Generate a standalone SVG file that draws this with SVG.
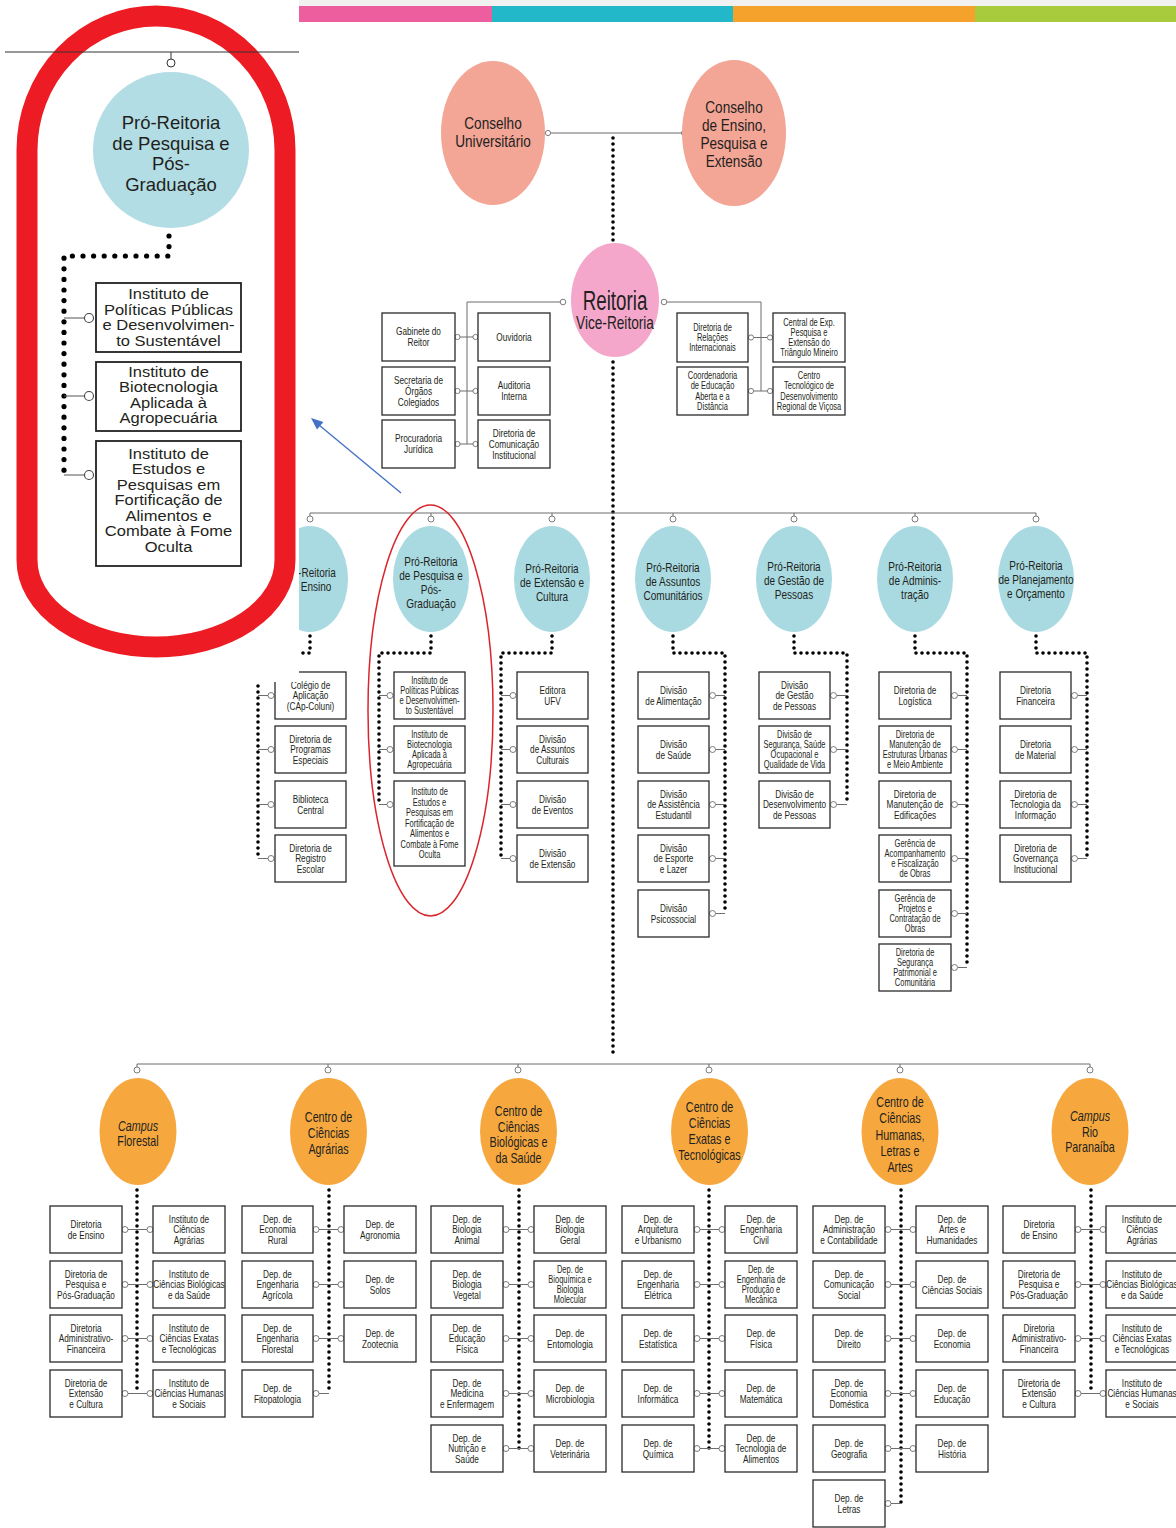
<svg xmlns="http://www.w3.org/2000/svg" width="1176" height="1528" viewBox="0 0 1176 1528">
<defs>
<style>
.box{fill:#fff;stroke:#2a2a2a;stroke-width:1.3}
.dot{fill:none;stroke:#000;stroke-width:3.6;stroke-linecap:round;stroke-dasharray:0 6}
.ln{fill:none;stroke:#6d6d6d;stroke-width:1}
.cc{fill:#fff;stroke:#6d6d6d;stroke-width:0.9}
text{font-family:'Liberation Sans',Arial,sans-serif;fill:#231f20;text-anchor:middle}
.bt{font-size:11px}
.bs{font-size:10px}
.et{font-size:13px}
.ot{font-size:14px}
.ct{font-size:17px}
.pr{fill:#A9DAE1}
.or{fill:#F6A83F}
.cs{fill:#F3A596}
.it{font-family:'Liberation Sans',Arial,sans-serif;font-size:15px}
.ibox{fill:#fff;stroke:#222;stroke-width:1.8}
</style>
</defs>
<rect x="0" y="0" width="1176" height="1528" fill="#fff"/>
<g id="colorbar">
<rect x="299" y="0" width="877" height="6" fill="#f1f1f1"/>
<rect x="299" y="6" width="193" height="16" fill="#EC5E9E"/>
<rect x="492" y="6" width="241" height="16" fill="#22B8CA"/>
<rect x="733" y="6" width="242" height="16" fill="#F5A22C"/>
<rect x="975" y="6" width="201" height="16" fill="#A7CB3C"/>
</g>
<g id="connectors">
<line class="ln" x1="551" y1="133" x2="681" y2="133"/>
<circle class="cc" cx="548" cy="133" r="2.6"/><circle class="cc" cx="684" cy="133" r="2.6"/>
<path class="dot" d="M613,138 V242"/>
<path class="ln" d="M560,302 H467 V444 M460,337 H473 M460,391 H473 M460,444 H473"/>
<circle class="cc" cx="563" cy="302" r="2.8"/>
<circle class="cc" cx="457.5" cy="337" r="2.6"/><circle class="cc" cx="475.5" cy="337" r="2.6"/>
<circle class="cc" cx="457.5" cy="391" r="2.6"/><circle class="cc" cx="475.5" cy="391" r="2.6"/>
<circle class="cc" cx="457.5" cy="444" r="2.6"/><circle class="cc" cx="475.5" cy="444" r="2.6"/>
<path class="ln" d="M667,302 H761 V391 M754,337.5 H767 M754,391 H767"/>
<circle class="cc" cx="664" cy="302" r="2.8"/>
<circle class="cc" cx="751" cy="337.5" r="2.6"/><circle class="cc" cx="770" cy="337.5" r="2.6"/>
<circle class="cc" cx="751" cy="391" r="2.6"/><circle class="cc" cx="770" cy="391" r="2.6"/>
<path class="dot" d="M613,362 V1058"/>
<path class="ln" d="M310,513 H1036 M310,513 V516 M431,513 V516 M552,513 V516 M673,513 V516 M794,513 V516 M915,513 V516 M1036,513 V516"/>
<circle class="cc" cx="310" cy="519" r="3"/><circle class="cc" cx="431" cy="519" r="3"/><circle class="cc" cx="552" cy="519" r="3"/><circle class="cc" cx="673" cy="519" r="3"/><circle class="cc" cx="794" cy="519" r="3"/><circle class="cc" cx="915" cy="519" r="3"/><circle class="cc" cx="1036" cy="519" r="3"/>
<path class="dot" d="M310,636 V653 H258 V858.5"/>
<path class="dot" d="M431,636 V653 H379 V804.5"/>
<path class="dot" d="M552,636 V653 H501 V858.5"/>
<path class="dot" d="M673,636 V653 H725 V913.5"/>
<path class="dot" d="M794,636 V653 H847 V804.5"/>
<path class="dot" d="M915,636 V653 H967 V967.5"/>
<path class="dot" d="M1036,636 V653 H1087 V858.5"/>
<path class="ln" d="M258,695.5 H268 M258,749.5 H268 M258,804.5 H268 M258,858.5 H268"/>
<circle class="cc" cx="271" cy="695.5" r="3"/><circle class="cc" cx="271" cy="749.5" r="3"/><circle class="cc" cx="271" cy="804.5" r="3"/><circle class="cc" cx="271" cy="858.5" r="3"/>
<path class="ln" d="M379,695.5 H387 M379,749.5 H387 M379,804.5 H387"/>
<circle class="cc" cx="390" cy="695.5" r="3"/><circle class="cc" cx="390" cy="749.5" r="3"/><circle class="cc" cx="390" cy="804.5" r="3"/>
<path class="ln" d="M501,695.5 H510 M501,749.5 H510 M501,804.5 H510 M501,858.5 H510"/>
<circle class="cc" cx="513" cy="695.5" r="3"/><circle class="cc" cx="513" cy="749.5" r="3"/><circle class="cc" cx="513" cy="804.5" r="3"/><circle class="cc" cx="513" cy="858.5" r="3"/>
<path class="ln" d="M715.5,695.5 H725 M715.5,749.5 H725 M715.5,804.5 H725 M715.5,858.5 H725 M715.5,913.5 H725"/>
<circle class="cc" cx="712.5" cy="695.5" r="3"/><circle class="cc" cx="712.5" cy="749.5" r="3"/><circle class="cc" cx="712.5" cy="804.5" r="3"/><circle class="cc" cx="712.5" cy="858.5" r="3"/><circle class="cc" cx="712.5" cy="913.5" r="3"/>
<path class="ln" d="M836.5,695.5 H847 M836.5,749.5 H847 M836.5,804.5 H847"/>
<circle class="cc" cx="833.5" cy="695.5" r="3"/><circle class="cc" cx="833.5" cy="749.5" r="3"/><circle class="cc" cx="833.5" cy="804.5" r="3"/>
<path class="ln" d="M957.5,695.5 H967 M957.5,749.5 H967 M957.5,804.5 H967 M957.5,858.5 H967 M957.5,913.5 H967 M957.5,967.5 H967"/>
<circle class="cc" cx="954.5" cy="695.5" r="3"/><circle class="cc" cx="954.5" cy="749.5" r="3"/><circle class="cc" cx="954.5" cy="804.5" r="3"/><circle class="cc" cx="954.5" cy="858.5" r="3"/><circle class="cc" cx="954.5" cy="913.5" r="3"/><circle class="cc" cx="954.5" cy="967.5" r="3"/>
<path class="ln" d="M1077.5,695.5 H1087 M1077.5,749.5 H1087 M1077.5,804.5 H1087 M1077.5,858.5 H1087"/>
<circle class="cc" cx="1074.5" cy="695.5" r="3"/><circle class="cc" cx="1074.5" cy="749.5" r="3"/><circle class="cc" cx="1074.5" cy="804.5" r="3"/><circle class="cc" cx="1074.5" cy="858.5" r="3"/>
<path class="ln" d="M137,1064 H1090 M137,1064 V1067 M328,1064 V1067 M518,1064 V1067 M709,1064 V1067 M900,1064 V1067 M1090,1064 V1067"/>
<circle class="cc" cx="137" cy="1070" r="3"/><circle class="cc" cx="328" cy="1070" r="3"/><circle class="cc" cx="518" cy="1070" r="3"/><circle class="cc" cx="709" cy="1070" r="3"/><circle class="cc" cx="900" cy="1070" r="3"/><circle class="cc" cx="1090" cy="1070" r="3"/>
<path class="dot" d="M137,1190 V1393.5"/>
<path class="dot" d="M329,1190 V1393.5"/>
<path class="dot" d="M519,1190 V1448.5"/>
<path class="dot" d="M709,1190 V1448.5"/>
<path class="dot" d="M901,1190 V1503.5"/>
<path class="dot" d="M1091,1190 V1393.5"/>
<path class="ln" d="M128,1229.5 H147 M128,1284.5 H147 M128,1338.5 H147 M128,1393.5 H147"/>
<circle class="cc" cx="125" cy="1229.5" r="3"/><circle class="cc" cx="150" cy="1229.5" r="3"/><circle class="cc" cx="125" cy="1284.5" r="3"/><circle class="cc" cx="150" cy="1284.5" r="3"/><circle class="cc" cx="125" cy="1338.5" r="3"/><circle class="cc" cx="150" cy="1338.5" r="3"/><circle class="cc" cx="125" cy="1393.5" r="3"/><circle class="cc" cx="150" cy="1393.5" r="3"/>
<path class="ln" d="M319,1229.5 H338 M319,1284.5 H338 M319,1338.5 H338 M319,1393.5 H329"/>
<circle class="cc" cx="316" cy="1229.5" r="3"/><circle class="cc" cx="341" cy="1229.5" r="3"/><circle class="cc" cx="316" cy="1284.5" r="3"/><circle class="cc" cx="341" cy="1284.5" r="3"/><circle class="cc" cx="316" cy="1338.5" r="3"/><circle class="cc" cx="341" cy="1338.5" r="3"/><circle class="cc" cx="316" cy="1393.5" r="3"/>
<path class="ln" d="M509,1229.5 H528 M509,1284.5 H528 M509,1338.5 H528 M509,1393.5 H528 M509,1448.5 H528"/>
<circle class="cc" cx="506" cy="1229.5" r="3"/><circle class="cc" cx="531" cy="1229.5" r="3"/><circle class="cc" cx="506" cy="1284.5" r="3"/><circle class="cc" cx="531" cy="1284.5" r="3"/><circle class="cc" cx="506" cy="1338.5" r="3"/><circle class="cc" cx="531" cy="1338.5" r="3"/><circle class="cc" cx="506" cy="1393.5" r="3"/><circle class="cc" cx="531" cy="1393.5" r="3"/><circle class="cc" cx="506" cy="1448.5" r="3"/><circle class="cc" cx="531" cy="1448.5" r="3"/>
<path class="ln" d="M700,1229.5 H719 M700,1284.5 H719 M700,1338.5 H719 M700,1393.5 H719 M700,1448.5 H719"/>
<circle class="cc" cx="697" cy="1229.5" r="3"/><circle class="cc" cx="722" cy="1229.5" r="3"/><circle class="cc" cx="697" cy="1284.5" r="3"/><circle class="cc" cx="722" cy="1284.5" r="3"/><circle class="cc" cx="697" cy="1338.5" r="3"/><circle class="cc" cx="722" cy="1338.5" r="3"/><circle class="cc" cx="697" cy="1393.5" r="3"/><circle class="cc" cx="722" cy="1393.5" r="3"/><circle class="cc" cx="697" cy="1448.5" r="3"/><circle class="cc" cx="722" cy="1448.5" r="3"/>
<path class="ln" d="M891,1229.5 H910 M891,1284.5 H910 M891,1338.5 H910 M891,1393.5 H910 M891,1448.5 H910 M891,1503.5 H901"/>
<circle class="cc" cx="888" cy="1229.5" r="3"/><circle class="cc" cx="913" cy="1229.5" r="3"/><circle class="cc" cx="888" cy="1284.5" r="3"/><circle class="cc" cx="913" cy="1284.5" r="3"/><circle class="cc" cx="888" cy="1338.5" r="3"/><circle class="cc" cx="913" cy="1338.5" r="3"/><circle class="cc" cx="888" cy="1393.5" r="3"/><circle class="cc" cx="913" cy="1393.5" r="3"/><circle class="cc" cx="888" cy="1448.5" r="3"/><circle class="cc" cx="913" cy="1448.5" r="3"/><circle class="cc" cx="888" cy="1503.5" r="3"/>
<path class="ln" d="M1081,1229.5 H1100 M1081,1284.5 H1100 M1081,1338.5 H1100 M1081,1393.5 H1100"/>
<circle class="cc" cx="1078" cy="1229.5" r="3"/><circle class="cc" cx="1103" cy="1229.5" r="3"/><circle class="cc" cx="1078" cy="1284.5" r="3"/><circle class="cc" cx="1103" cy="1284.5" r="3"/><circle class="cc" cx="1078" cy="1338.5" r="3"/><circle class="cc" cx="1103" cy="1338.5" r="3"/><circle class="cc" cx="1078" cy="1393.5" r="3"/><circle class="cc" cx="1103" cy="1393.5" r="3"/>
</g>

<g id="n-consu"><ellipse class="cs" cx="493" cy="133" rx="52" ry="72"/><text class="ct" transform="translate(493,129) scale(.8,1)"><tspan x="0" y="0">Conselho</tspan><tspan x="0" y="18">Universitário</tspan></text></g>
<g id="n-cepe"><ellipse class="cs" cx="734" cy="133" rx="52" ry="73"/><text class="ct" transform="translate(734,113) scale(.8,1)"><tspan x="0" y="0">Conselho</tspan><tspan x="0" y="18">de Ensino,</tspan><tspan x="0" y="36">Pesquisa e</tspan><tspan x="0" y="54">Extensão</tspan></text></g>
<g id="n-reitoria"><ellipse cx="615" cy="300" rx="44" ry="57" fill="#F4A7CB"/><text transform="translate(615,310) scale(.67,1)" font-size="28">Reitoria</text><text transform="translate(615,329) scale(.78,1)" font-size="17.5">Vice-Reitoria</text></g>

<g id="n-gabinete"><rect class="box" x="382" y="313" width="73" height="48"/><text class="bt" transform="translate(418.5,335.4) scale(.75,1)"><tspan x="0" y="0">Gabinete do</tspan><tspan x="0" y="10.8">Reitor</tspan></text></g>
<g id="n-ouvidoria"><rect class="box" x="478" y="313" width="72" height="48"/><text class="bt" transform="translate(514,340.8) scale(.75,1)">Ouvidoria</text></g>
<g id="n-secretaria"><rect class="box" x="382" y="367" width="73" height="48"/><text class="bt" transform="translate(418.5,384) scale(.75,1)"><tspan x="0" y="0">Secretaria de</tspan><tspan x="0" y="10.8">Órgãos</tspan><tspan x="0" y="21.6">Colegiados</tspan></text></g>
<g id="n-auditoria"><rect class="box" x="478" y="367" width="72" height="48"/><text class="bt" transform="translate(514,389.4) scale(.75,1)"><tspan x="0" y="0">Auditoria</tspan><tspan x="0" y="10.8">Interna</tspan></text></g>
<g id="n-procuradoria"><rect class="box" x="382" y="420" width="73" height="48"/><text class="bt" transform="translate(418.5,442.4) scale(.75,1)"><tspan x="0" y="0">Procuradoria</tspan><tspan x="0" y="10.8">Jurídica</tspan></text></g>
<g id="n-comunicacao"><rect class="box" x="478" y="420" width="72" height="48"/><text class="bt" transform="translate(514,437) scale(.75,1)"><tspan x="0" y="0">Diretoria de</tspan><tspan x="0" y="10.8">Comunicação</tspan><tspan x="0" y="21.6">Institucional</tspan></text></g>
<g id="n-relacoes"><rect class="box" x="677" y="313" width="71" height="49"/><text class="bs" transform="translate(712.5,330.6) scale(.75,1)"><tspan x="0" y="0">Diretoria de</tspan><tspan x="0" y="10.3">Relações</tspan><tspan x="0" y="20.6">Internacionais</tspan></text></g>
<g id="n-central"><rect class="box" x="773" y="313" width="72" height="49"/><text class="bs" transform="translate(809,325.5) scale(.75,1)"><tspan x="0" y="0">Central de Exp.</tspan><tspan x="0" y="10.3">Pesquisa e</tspan><tspan x="0" y="20.6">Extensão do</tspan><tspan x="0" y="30.9">Triângulo Mineiro</tspan></text></g>
<g id="n-cead"><rect class="box" x="677" y="367" width="71" height="48"/><text class="bs" transform="translate(712.5,379) scale(.75,1)"><tspan x="0" y="0">Coordenadoria</tspan><tspan x="0" y="10.3">de Educação</tspan><tspan x="0" y="20.6">Aberta e a</tspan><tspan x="0" y="30.9">Distância</tspan></text></g>
<g id="n-centev"><rect class="box" x="773" y="367" width="72" height="48"/><text class="bs" transform="translate(809,379) scale(.75,1)"><tspan x="0" y="0">Centro</tspan><tspan x="0" y="10.3">Tecnológico de</tspan><tspan x="0" y="20.6">Desenvolvimento</tspan><tspan x="0" y="30.9">Regional de Viçosa</tspan></text></g>

<g id="n-pre"><ellipse class="pr" cx="310" cy="579" rx="38" ry="53"/><text class="et" transform="translate(317,577) scale(.77,1)">-Reitoria</text><text class="et" transform="translate(316,591) scale(.77,1)">Ensino</text></g>
<g id="n-ppg"><ellipse class="pr" cx="431" cy="579" rx="38" ry="53"/><text class="et" transform="translate(431,566) scale(.77,1)"><tspan x="0" y="0">Pró-Reitoria</tspan><tspan x="0" y="14">de Pesquisa e</tspan><tspan x="0" y="28">Pós-</tspan><tspan x="0" y="42">Graduação</tspan></text></g>
<g id="n-pec"><ellipse class="pr" cx="552" cy="579" rx="38" ry="53"/><text class="et" transform="translate(552,573) scale(.77,1)"><tspan x="0" y="0">Pró-Reitoria</tspan><tspan x="0" y="14">de Extensão e</tspan><tspan x="0" y="28">Cultura</tspan></text></g>
<g id="n-pca"><ellipse class="pr" cx="673" cy="579" rx="38" ry="53"/><text class="et" transform="translate(673,572) scale(.77,1)"><tspan x="0" y="0">Pró-Reitoria</tspan><tspan x="0" y="14">de Assuntos</tspan><tspan x="0" y="28">Comunitários</tspan></text></g>
<g id="n-pgp"><ellipse class="pr" cx="794" cy="579" rx="38" ry="53"/><text class="et" transform="translate(794,571) scale(.77,1)"><tspan x="0" y="0">Pró-Reitoria</tspan><tspan x="0" y="14">de Gestão de</tspan><tspan x="0" y="28">Pessoas</tspan></text></g>
<g id="n-pad"><ellipse class="pr" cx="915" cy="579" rx="38" ry="53"/><text class="et" transform="translate(915,571) scale(.77,1)"><tspan x="0" y="0">Pró-Reitoria</tspan><tspan x="0" y="14">de Adminis-</tspan><tspan x="0" y="28">tração</tspan></text></g>
<g id="n-ppo"><ellipse class="pr" cx="1036" cy="579" rx="38" ry="53"/><text class="et" transform="translate(1036,570) scale(.77,1)"><tspan x="0" y="0">Pró-Reitoria</tspan><tspan x="0" y="14">de Planejamento</tspan><tspan x="0" y="28">e Orçamento</tspan></text></g>

<g id="n-coluni"><rect class="box" x="275" y="672" width="71" height="47"/><text class="bt" transform="translate(310.5,688.5) scale(.75,1)"><tspan x="0" y="0">Colégio de</tspan><tspan x="0" y="10.8">Aplicação</tspan><tspan x="0" y="21.6">(CAp-Coluni)</tspan></text></g>
<g id="n-dpe"><rect class="box" x="275" y="726" width="71" height="47"/><text class="bt" transform="translate(310.5,742.5) scale(.75,1)"><tspan x="0" y="0">Diretoria de</tspan><tspan x="0" y="10.8">Programas</tspan><tspan x="0" y="21.6">Especiais</tspan></text></g>
<g id="n-bbt"><rect class="box" x="275" y="781" width="71" height="47"/><text class="bt" transform="translate(310.5,802.9) scale(.75,1)"><tspan x="0" y="0">Biblioteca</tspan><tspan x="0" y="10.8">Central</tspan></text></g>
<g id="n-dre"><rect class="box" x="275" y="835" width="71" height="47"/><text class="bt" transform="translate(310.5,851.5) scale(.75,1)"><tspan x="0" y="0">Diretoria de</tspan><tspan x="0" y="10.8">Registro</tspan><tspan x="0" y="21.6">Escolar</tspan></text></g>

<g id="n-ipppds"><rect class="box" x="394" y="672" width="71" height="47"/><text class="bs" transform="translate(429.5,683.5) scale(.75,1)"><tspan x="0" y="0">Instituto de</tspan><tspan x="0" y="10.3">Políticas Públicas</tspan><tspan x="0" y="20.6">e Desenvolvimen-</tspan><tspan x="0" y="30.9">to Sustentável</tspan></text></g>
<g id="n-ibaa"><rect class="box" x="394" y="726" width="71" height="47"/><text class="bs" transform="translate(429.5,737.5) scale(.75,1)"><tspan x="0" y="0">Instituto de</tspan><tspan x="0" y="10.3">Biotecnologia</tspan><tspan x="0" y="20.6">Aplicada à</tspan><tspan x="0" y="30.9">Agropecuária</tspan></text></g>
<g id="n-iepfa"><rect class="box" x="394" y="781" width="71" height="85"/><text class="bs" transform="translate(429.5,795.4) scale(.75,1)"><tspan x="0" y="0">Instituto de</tspan><tspan x="0" y="10.5">Estudos e</tspan><tspan x="0" y="21">Pesquisas em</tspan><tspan x="0" y="31.5">Fortificação de</tspan><tspan x="0" y="42">Alimentos e</tspan><tspan x="0" y="52.5">Combate à Fome</tspan><tspan x="0" y="63">Oculta</tspan></text></g>

<g id="n-editora"><rect class="box" x="517" y="672" width="71" height="47"/><text class="bt" transform="translate(552.5,693.9) scale(.75,1)"><tspan x="0" y="0">Editora</tspan><tspan x="0" y="10.8">UFV</tspan></text></g>
<g id="n-dac"><rect class="box" x="517" y="726" width="71" height="47"/><text class="bt" transform="translate(552.5,742.5) scale(.75,1)"><tspan x="0" y="0">Divisão</tspan><tspan x="0" y="10.8">de Assuntos</tspan><tspan x="0" y="21.6">Culturais</tspan></text></g>
<g id="n-eventos"><rect class="box" x="517" y="781" width="71" height="47"/><text class="bt" transform="translate(552.5,802.9) scale(.75,1)"><tspan x="0" y="0">Divisão</tspan><tspan x="0" y="10.8">de Eventos</tspan></text></g>
<g id="n-dex"><rect class="box" x="517" y="835" width="71" height="47"/><text class="bt" transform="translate(552.5,856.9) scale(.75,1)"><tspan x="0" y="0">Divisão</tspan><tspan x="0" y="10.8">de Extensão</tspan></text></g>

<g id="n-alim"><rect class="box" x="638" y="672" width="71" height="47"/><text class="bt" transform="translate(673.5,693.9) scale(.75,1)"><tspan x="0" y="0">Divisão</tspan><tspan x="0" y="10.8">de Alimentação</tspan></text></g>
<g id="n-saude"><rect class="box" x="638" y="726" width="71" height="47"/><text class="bt" transform="translate(673.5,747.9) scale(.75,1)"><tspan x="0" y="0">Divisão</tspan><tspan x="0" y="10.8">de Saúde</tspan></text></g>
<g id="n-assist"><rect class="box" x="638" y="781" width="71" height="47"/><text class="bt" transform="translate(673.5,797.5) scale(.75,1)"><tspan x="0" y="0">Divisão</tspan><tspan x="0" y="10.8">de Assistência</tspan><tspan x="0" y="21.6">Estudantil</tspan></text></g>
<g id="n-esporte"><rect class="box" x="638" y="835" width="71" height="47"/><text class="bt" transform="translate(673.5,851.5) scale(.75,1)"><tspan x="0" y="0">Divisão</tspan><tspan x="0" y="10.8">de Esporte</tspan><tspan x="0" y="21.6">e Lazer</tspan></text></g>
<g id="n-psico"><rect class="box" x="638" y="890" width="71" height="47"/><text class="bt" transform="translate(673.5,911.9) scale(.75,1)"><tspan x="0" y="0">Divisão</tspan><tspan x="0" y="10.8">Psicossocial</tspan></text></g>

<g id="n-dgp"><rect class="box" x="759" y="672" width="71" height="47"/><text class="bt" transform="translate(794.5,688.5) scale(.75,1)"><tspan x="0" y="0">Divisão</tspan><tspan x="0" y="10.8">de Gestão</tspan><tspan x="0" y="21.6">de Pessoas</tspan></text></g>
<g id="n-dsq"><rect class="box" x="759" y="726" width="71" height="47"/><text class="bs" transform="translate(794.5,737.5) scale(.75,1)"><tspan x="0" y="0">Divisão de</tspan><tspan x="0" y="10.3">Segurança, Saúde</tspan><tspan x="0" y="20.6">Ocupacional e</tspan><tspan x="0" y="30.9">Qualidade de Vida</tspan></text></g>
<g id="n-ddp"><rect class="box" x="759" y="781" width="71" height="47"/><text class="bt" transform="translate(794.5,797.5) scale(.75,1)"><tspan x="0" y="0">Divisão de</tspan><tspan x="0" y="10.8">Desenvolvimento</tspan><tspan x="0" y="21.6">de Pessoas</tspan></text></g>

<g id="n-dlog"><rect class="box" x="879" y="672" width="72" height="47"/><text class="bt" transform="translate(915,693.9) scale(.75,1)"><tspan x="0" y="0">Diretoria de</tspan><tspan x="0" y="10.8">Logística</tspan></text></g>
<g id="n-dmu"><rect class="box" x="879" y="726" width="72" height="47"/><text class="bs" transform="translate(915,737.5) scale(.75,1)"><tspan x="0" y="0">Diretoria de</tspan><tspan x="0" y="10.3">Manutenção de</tspan><tspan x="0" y="20.6">Estruturas Urbanas</tspan><tspan x="0" y="30.9">e Meio Ambiente</tspan></text></g>
<g id="n-dme"><rect class="box" x="879" y="781" width="72" height="47"/><text class="bt" transform="translate(915,797.5) scale(.75,1)"><tspan x="0" y="0">Diretoria de</tspan><tspan x="0" y="10.8">Manutenção de</tspan><tspan x="0" y="21.6">Edificações</tspan></text></g>
<g id="n-gaf"><rect class="box" x="879" y="835" width="72" height="47"/><text class="bs" transform="translate(915,846.5) scale(.75,1)"><tspan x="0" y="0">Gerência de</tspan><tspan x="0" y="10.3">Acompanhamento</tspan><tspan x="0" y="20.6">e Fiscalização</tspan><tspan x="0" y="30.9">de Obras</tspan></text></g>
<g id="n-gpc"><rect class="box" x="879" y="890" width="72" height="47"/><text class="bs" transform="translate(915,901.5) scale(.75,1)"><tspan x="0" y="0">Gerência de</tspan><tspan x="0" y="10.3">Projetos e</tspan><tspan x="0" y="20.6">Contratação de</tspan><tspan x="0" y="30.9">Obras</tspan></text></g>
<g id="n-dsp"><rect class="box" x="879" y="944" width="72" height="47"/><text class="bs" transform="translate(915,955.5) scale(.75,1)"><tspan x="0" y="0">Diretoria de</tspan><tspan x="0" y="10.3">Segurança</tspan><tspan x="0" y="20.6">Patrimonial e</tspan><tspan x="0" y="30.9">Comunitária</tspan></text></g>

<g id="n-dfin"><rect class="box" x="1000" y="672" width="71" height="47"/><text class="bt" transform="translate(1035.5,693.9) scale(.75,1)"><tspan x="0" y="0">Diretoria</tspan><tspan x="0" y="10.8">Financeira</tspan></text></g>
<g id="n-dmat"><rect class="box" x="1000" y="726" width="71" height="47"/><text class="bt" transform="translate(1035.5,747.9) scale(.75,1)"><tspan x="0" y="0">Diretoria</tspan><tspan x="0" y="10.8">de Material</tspan></text></g>
<g id="n-dti"><rect class="box" x="1000" y="781" width="71" height="47"/><text class="bt" transform="translate(1035.5,797.5) scale(.75,1)"><tspan x="0" y="0">Diretoria de</tspan><tspan x="0" y="10.8">Tecnologia da</tspan><tspan x="0" y="21.6">Informação</tspan></text></g>
<g id="n-dgi"><rect class="box" x="1000" y="835" width="71" height="47"/><text class="bt" transform="translate(1035.5,851.5) scale(.75,1)"><tspan x="0" y="0">Diretoria de</tspan><tspan x="0" y="10.8">Governança</tspan><tspan x="0" y="21.6">Institucional</tspan></text></g>

<g id="n-caf"><ellipse class="or" cx="138" cy="1131.5" rx="38.5" ry="53.5"/><text class="ot" transform="translate(138,1131) scale(.77,1)" font-style="italic">Campus</text><text class="ot" transform="translate(138,1146) scale(.77,1)">Florestal</text></g>
<g id="n-cca"><ellipse class="or" cx="328.5" cy="1131.5" rx="38.5" ry="53.5"/><text class="ot" transform="translate(328.5,1122) scale(.77,1)"><tspan x="0" y="0">Centro de</tspan><tspan x="0" y="16">Ciências</tspan><tspan x="0" y="32">Agrárias</tspan></text></g>
<g id="n-ccb"><ellipse class="or" cx="518.5" cy="1131.5" rx="38.5" ry="53.5"/><text class="ot" transform="translate(518.5,1116) scale(.77,1)"><tspan x="0" y="0">Centro de</tspan><tspan x="0" y="15.7">Ciências</tspan><tspan x="0" y="31.4">Biológicas e</tspan><tspan x="0" y="47.1">da Saúde</tspan></text></g>
<g id="n-cce"><ellipse class="or" cx="709.5" cy="1131.5" rx="38.5" ry="53.5"/><text class="ot" transform="translate(709.5,1112) scale(.77,1)"><tspan x="0" y="0">Centro de</tspan><tspan x="0" y="15.9">Ciências</tspan><tspan x="0" y="31.8">Exatas e</tspan><tspan x="0" y="47.7">Tecnológicas</tspan></text></g>
<g id="n-cch"><ellipse class="or" cx="900" cy="1131.5" rx="38.5" ry="53.5"/><text class="ot" transform="translate(900,1107) scale(.77,1)"><tspan x="0" y="0">Centro de</tspan><tspan x="0" y="16.3">Ciências</tspan><tspan x="0" y="32.6">Humanas,</tspan><tspan x="0" y="48.9">Letras e</tspan><tspan x="0" y="65.2">Artes</tspan></text></g>
<g id="n-crp"><ellipse class="or" cx="1090" cy="1131.5" rx="38.5" ry="53.5"/><text class="ot" transform="translate(1090,1121) scale(.77,1)" font-style="italic">Campus</text><text class="ot" transform="translate(1090,1136.5) scale(.77,1)"><tspan x="0" y="0">Rio</tspan><tspan x="0" y="15.5">Paranaíba</tspan></text></g>

<g id="n-caf-de"><rect class="box" x="50" y="1206" width="72" height="47"/><text class="bt" transform="translate(86,1227.9) scale(.75,1)"><tspan x="0" y="0">Diretoria</tspan><tspan x="0" y="10.8">de Ensino</tspan></text></g>
<g id="n-caf-dp"><rect class="box" x="50" y="1261" width="72" height="47"/><text class="bt" transform="translate(86,1277.5) scale(.75,1)"><tspan x="0" y="0">Diretoria de</tspan><tspan x="0" y="10.8">Pesquisa e</tspan><tspan x="0" y="21.6">Pós-Graduação</tspan></text></g>
<g id="n-caf-da"><rect class="box" x="50" y="1315" width="72" height="47"/><text class="bt" transform="translate(86,1331.5) scale(.75,1)"><tspan x="0" y="0">Diretoria</tspan><tspan x="0" y="10.8">Administrativo-</tspan><tspan x="0" y="21.6">Financeira</tspan></text></g>
<g id="n-caf-dx"><rect class="box" x="50" y="1370" width="72" height="47"/><text class="bt" transform="translate(86,1386.5) scale(.75,1)"><tspan x="0" y="0">Diretoria de</tspan><tspan x="0" y="10.8">Extensão</tspan><tspan x="0" y="21.6">e Cultura</tspan></text></g>
<g id="n-caf-ia"><rect class="box" x="153" y="1206" width="72" height="47"/><text class="bt" transform="translate(189,1222.5) scale(.75,1)"><tspan x="0" y="0">Instituto de</tspan><tspan x="0" y="10.8">Ciências</tspan><tspan x="0" y="21.6">Agrárias</tspan></text></g>
<g id="n-caf-ib"><rect class="box" x="153" y="1261" width="72" height="47"/><text class="bt" transform="translate(189,1277.5) scale(.75,1)"><tspan x="0" y="0">Instituto de</tspan><tspan x="0" y="10.8">Ciências Biológicas</tspan><tspan x="0" y="21.6">e da Saúde</tspan></text></g>
<g id="n-caf-ie"><rect class="box" x="153" y="1315" width="72" height="47"/><text class="bt" transform="translate(189,1331.5) scale(.75,1)"><tspan x="0" y="0">Instituto de</tspan><tspan x="0" y="10.8">Ciências Exatas</tspan><tspan x="0" y="21.6">e Tecnológicas</tspan></text></g>
<g id="n-caf-ih"><rect class="box" x="153" y="1370" width="72" height="47"/><text class="bt" transform="translate(189,1386.5) scale(.75,1)"><tspan x="0" y="0">Instituto de</tspan><tspan x="0" y="10.8">Ciências Humanas</tspan><tspan x="0" y="21.6">e Sociais</tspan></text></g>

<g id="n-cca-der"><rect class="box" x="242" y="1206" width="71" height="47"/><text class="bt" transform="translate(277.5,1222.5) scale(.75,1)"><tspan x="0" y="0">Dep. de</tspan><tspan x="0" y="10.8">Economia</tspan><tspan x="0" y="21.6">Rural</tspan></text></g>
<g id="n-cca-dea"><rect class="box" x="242" y="1261" width="71" height="47"/><text class="bt" transform="translate(277.5,1277.5) scale(.75,1)"><tspan x="0" y="0">Dep. de</tspan><tspan x="0" y="10.8">Engenharia</tspan><tspan x="0" y="21.6">Agrícola</tspan></text></g>
<g id="n-cca-def"><rect class="box" x="242" y="1315" width="71" height="47"/><text class="bt" transform="translate(277.5,1331.5) scale(.75,1)"><tspan x="0" y="0">Dep. de</tspan><tspan x="0" y="10.8">Engenharia</tspan><tspan x="0" y="21.6">Florestal</tspan></text></g>
<g id="n-cca-dfp"><rect class="box" x="242" y="1370" width="71" height="47"/><text class="bt" transform="translate(277.5,1391.9) scale(.75,1)"><tspan x="0" y="0">Dep. de</tspan><tspan x="0" y="10.8">Fitopatologia</tspan></text></g>
<g id="n-cca-dag"><rect class="box" x="344" y="1206" width="72" height="47"/><text class="bt" transform="translate(380,1227.9) scale(.75,1)"><tspan x="0" y="0">Dep. de</tspan><tspan x="0" y="10.8">Agronomia</tspan></text></g>
<g id="n-cca-dso"><rect class="box" x="344" y="1261" width="72" height="47"/><text class="bt" transform="translate(380,1282.9) scale(.75,1)"><tspan x="0" y="0">Dep. de</tspan><tspan x="0" y="10.8">Solos</tspan></text></g>
<g id="n-cca-dzo"><rect class="box" x="344" y="1315" width="72" height="47"/><text class="bt" transform="translate(380,1336.9) scale(.75,1)"><tspan x="0" y="0">Dep. de</tspan><tspan x="0" y="10.8">Zootecnia</tspan></text></g>

<g id="n-ccb-dba"><rect class="box" x="431" y="1206" width="72" height="47"/><text class="bt" transform="translate(467,1222.5) scale(.75,1)"><tspan x="0" y="0">Dep. de</tspan><tspan x="0" y="10.8">Biologia</tspan><tspan x="0" y="21.6">Animal</tspan></text></g>
<g id="n-ccb-dbv"><rect class="box" x="431" y="1261" width="72" height="47"/><text class="bt" transform="translate(467,1277.5) scale(.75,1)"><tspan x="0" y="0">Dep. de</tspan><tspan x="0" y="10.8">Biologia</tspan><tspan x="0" y="21.6">Vegetal</tspan></text></g>
<g id="n-ccb-des"><rect class="box" x="431" y="1315" width="72" height="47"/><text class="bt" transform="translate(467,1331.5) scale(.75,1)"><tspan x="0" y="0">Dep. de</tspan><tspan x="0" y="10.8">Educação</tspan><tspan x="0" y="21.6">Física</tspan></text></g>
<g id="n-ccb-dme"><rect class="box" x="431" y="1370" width="72" height="47"/><text class="bt" transform="translate(467,1386.5) scale(.75,1)"><tspan x="0" y="0">Dep. de</tspan><tspan x="0" y="10.8">Medicina</tspan><tspan x="0" y="21.6">e Enfermagem</tspan></text></g>
<g id="n-ccb-dns"><rect class="box" x="431" y="1425" width="72" height="47"/><text class="bt" transform="translate(467,1441.5) scale(.75,1)"><tspan x="0" y="0">Dep. de</tspan><tspan x="0" y="10.8">Nutrição e</tspan><tspan x="0" y="21.6">Saúde</tspan></text></g>
<g id="n-ccb-dbg"><rect class="box" x="534" y="1206" width="72" height="47"/><text class="bt" transform="translate(570,1222.5) scale(.75,1)"><tspan x="0" y="0">Dep. de</tspan><tspan x="0" y="10.8">Biologia</tspan><tspan x="0" y="21.6">Geral</tspan></text></g>
<g id="n-ccb-dbq"><rect class="box" x="534" y="1261" width="72" height="47"/><text class="bs" transform="translate(570,1272.5) scale(.75,1)"><tspan x="0" y="0">Dep. de</tspan><tspan x="0" y="10.3">Bioquímica e</tspan><tspan x="0" y="20.6">Biologia</tspan><tspan x="0" y="30.9">Molecular</tspan></text></g>
<g id="n-ccb-den"><rect class="box" x="534" y="1315" width="72" height="47"/><text class="bt" transform="translate(570,1336.9) scale(.75,1)"><tspan x="0" y="0">Dep. de</tspan><tspan x="0" y="10.8">Entomologia</tspan></text></g>
<g id="n-ccb-dmb"><rect class="box" x="534" y="1370" width="72" height="47"/><text class="bt" transform="translate(570,1391.9) scale(.75,1)"><tspan x="0" y="0">Dep. de</tspan><tspan x="0" y="10.8">Microbiologia</tspan></text></g>
<g id="n-ccb-dvt"><rect class="box" x="534" y="1425" width="72" height="47"/><text class="bt" transform="translate(570,1446.9) scale(.75,1)"><tspan x="0" y="0">Dep. de</tspan><tspan x="0" y="10.8">Veterinária</tspan></text></g>

<g id="n-cce-dau"><rect class="box" x="622" y="1206" width="72" height="47"/><text class="bt" transform="translate(658,1222.5) scale(.75,1)"><tspan x="0" y="0">Dep. de</tspan><tspan x="0" y="10.8">Arquitetura</tspan><tspan x="0" y="21.6">e Urbanismo</tspan></text></g>
<g id="n-cce-del"><rect class="box" x="622" y="1261" width="72" height="47"/><text class="bt" transform="translate(658,1277.5) scale(.75,1)"><tspan x="0" y="0">Dep. de</tspan><tspan x="0" y="10.8">Engenharia</tspan><tspan x="0" y="21.6">Elétrica</tspan></text></g>
<g id="n-cce-det"><rect class="box" x="622" y="1315" width="72" height="47"/><text class="bt" transform="translate(658,1336.9) scale(.75,1)"><tspan x="0" y="0">Dep. de</tspan><tspan x="0" y="10.8">Estatística</tspan></text></g>
<g id="n-cce-dpi"><rect class="box" x="622" y="1370" width="72" height="47"/><text class="bt" transform="translate(658,1391.9) scale(.75,1)"><tspan x="0" y="0">Dep. de</tspan><tspan x="0" y="10.8">Informática</tspan></text></g>
<g id="n-cce-deq"><rect class="box" x="622" y="1425" width="72" height="47"/><text class="bt" transform="translate(658,1446.9) scale(.75,1)"><tspan x="0" y="0">Dep. de</tspan><tspan x="0" y="10.8">Química</tspan></text></g>
<g id="n-cce-dec"><rect class="box" x="725" y="1206" width="72" height="47"/><text class="bt" transform="translate(761,1222.5) scale(.75,1)"><tspan x="0" y="0">Dep. de</tspan><tspan x="0" y="10.8">Engenharia</tspan><tspan x="0" y="21.6">Civil</tspan></text></g>
<g id="n-cce-dep"><rect class="box" x="725" y="1261" width="72" height="47"/><text class="bs" transform="translate(761,1272.5) scale(.75,1)"><tspan x="0" y="0">Dep. de</tspan><tspan x="0" y="10.3">Engenharia de</tspan><tspan x="0" y="20.6">Produção e</tspan><tspan x="0" y="30.9">Mecânica</tspan></text></g>
<g id="n-cce-dpf"><rect class="box" x="725" y="1315" width="72" height="47"/><text class="bt" transform="translate(761,1336.9) scale(.75,1)"><tspan x="0" y="0">Dep. de</tspan><tspan x="0" y="10.8">Física</tspan></text></g>
<g id="n-cce-dma"><rect class="box" x="725" y="1370" width="72" height="47"/><text class="bt" transform="translate(761,1391.9) scale(.75,1)"><tspan x="0" y="0">Dep. de</tspan><tspan x="0" y="10.8">Matemática</tspan></text></g>
<g id="n-cce-dta"><rect class="box" x="725" y="1425" width="72" height="47"/><text class="bt" transform="translate(761,1441.5) scale(.75,1)"><tspan x="0" y="0">Dep. de</tspan><tspan x="0" y="10.8">Tecnologia de</tspan><tspan x="0" y="21.6">Alimentos</tspan></text></g>

<g id="n-cch-dad"><rect class="box" x="813" y="1206" width="72" height="47"/><text class="bt" transform="translate(849,1222.5) scale(.75,1)"><tspan x="0" y="0">Dep. de</tspan><tspan x="0" y="10.8">Administração</tspan><tspan x="0" y="21.6">e Contabilidade</tspan></text></g>
<g id="n-cch-dcm"><rect class="box" x="813" y="1261" width="72" height="47"/><text class="bt" transform="translate(849,1277.5) scale(.75,1)"><tspan x="0" y="0">Dep. de</tspan><tspan x="0" y="10.8">Comunicação</tspan><tspan x="0" y="21.6">Social</tspan></text></g>
<g id="n-cch-dir"><rect class="box" x="813" y="1315" width="72" height="47"/><text class="bt" transform="translate(849,1336.9) scale(.75,1)"><tspan x="0" y="0">Dep. de</tspan><tspan x="0" y="10.8">Direito</tspan></text></g>
<g id="n-cch-ded"><rect class="box" x="813" y="1370" width="72" height="47"/><text class="bt" transform="translate(849,1386.5) scale(.75,1)"><tspan x="0" y="0">Dep. de</tspan><tspan x="0" y="10.8">Economia</tspan><tspan x="0" y="21.6">Doméstica</tspan></text></g>
<g id="n-cch-geo"><rect class="box" x="813" y="1425" width="72" height="47"/><text class="bt" transform="translate(849,1446.9) scale(.75,1)"><tspan x="0" y="0">Dep. de</tspan><tspan x="0" y="10.8">Geografia</tspan></text></g>
<g id="n-cch-dla"><rect class="box" x="813" y="1480" width="72" height="47"/><text class="bt" transform="translate(849,1501.9) scale(.75,1)"><tspan x="0" y="0">Dep. de</tspan><tspan x="0" y="10.8">Letras</tspan></text></g>
<g id="n-cch-dah"><rect class="box" x="916" y="1206" width="72" height="47"/><text class="bt" transform="translate(952,1222.5) scale(.75,1)"><tspan x="0" y="0">Dep. de</tspan><tspan x="0" y="10.8">Artes e</tspan><tspan x="0" y="21.6">Humanidades</tspan></text></g>
<g id="n-cch-dcs"><rect class="box" x="916" y="1261" width="72" height="47"/><text class="bt" transform="translate(952,1282.9) scale(.75,1)"><tspan x="0" y="0">Dep. de</tspan><tspan x="0" y="10.8">Ciências Sociais</tspan></text></g>
<g id="n-cch-dee"><rect class="box" x="916" y="1315" width="72" height="47"/><text class="bt" transform="translate(952,1336.9) scale(.75,1)"><tspan x="0" y="0">Dep. de</tspan><tspan x="0" y="10.8">Economia</tspan></text></g>
<g id="n-cch-dpe"><rect class="box" x="916" y="1370" width="72" height="47"/><text class="bt" transform="translate(952,1391.9) scale(.75,1)"><tspan x="0" y="0">Dep. de</tspan><tspan x="0" y="10.8">Educação</tspan></text></g>
<g id="n-cch-dhi"><rect class="box" x="916" y="1425" width="72" height="47"/><text class="bt" transform="translate(952,1446.9) scale(.75,1)"><tspan x="0" y="0">Dep. de</tspan><tspan x="0" y="10.8">História</tspan></text></g>

<g id="n-crp-de"><rect class="box" x="1003" y="1206" width="72" height="47"/><text class="bt" transform="translate(1039,1227.9) scale(.75,1)"><tspan x="0" y="0">Diretoria</tspan><tspan x="0" y="10.8">de Ensino</tspan></text></g>
<g id="n-crp-dp"><rect class="box" x="1003" y="1261" width="72" height="47"/><text class="bt" transform="translate(1039,1277.5) scale(.75,1)"><tspan x="0" y="0">Diretoria de</tspan><tspan x="0" y="10.8">Pesquisa e</tspan><tspan x="0" y="21.6">Pós-Graduação</tspan></text></g>
<g id="n-crp-da"><rect class="box" x="1003" y="1315" width="72" height="47"/><text class="bt" transform="translate(1039,1331.5) scale(.75,1)"><tspan x="0" y="0">Diretoria</tspan><tspan x="0" y="10.8">Administrativo-</tspan><tspan x="0" y="21.6">Financeira</tspan></text></g>
<g id="n-crp-dx"><rect class="box" x="1003" y="1370" width="72" height="47"/><text class="bt" transform="translate(1039,1386.5) scale(.75,1)"><tspan x="0" y="0">Diretoria de</tspan><tspan x="0" y="10.8">Extensão</tspan><tspan x="0" y="21.6">e Cultura</tspan></text></g>
<g id="n-crp-ia"><rect class="box" x="1106" y="1206" width="72" height="47"/><text class="bt" transform="translate(1142,1222.5) scale(.75,1)"><tspan x="0" y="0">Instituto de</tspan><tspan x="0" y="10.8">Ciências</tspan><tspan x="0" y="21.6">Agrárias</tspan></text></g>
<g id="n-crp-ib"><rect class="box" x="1106" y="1261" width="72" height="47"/><text class="bt" transform="translate(1142,1277.5) scale(.75,1)"><tspan x="0" y="0">Instituto de</tspan><tspan x="0" y="10.8">Ciências Biológicas</tspan><tspan x="0" y="21.6">e da Saúde</tspan></text></g>
<g id="n-crp-ie"><rect class="box" x="1106" y="1315" width="72" height="47"/><text class="bt" transform="translate(1142,1331.5) scale(.75,1)"><tspan x="0" y="0">Instituto de</tspan><tspan x="0" y="10.8">Ciências Exatas</tspan><tspan x="0" y="21.6">e Tecnológicas</tspan></text></g>
<g id="n-crp-ih"><rect class="box" x="1106" y="1370" width="72" height="47"/><text class="bt" transform="translate(1142,1386.5) scale(.75,1)"><tspan x="0" y="0">Instituto de</tspan><tspan x="0" y="10.8">Ciências Humanas</tspan><tspan x="0" y="21.6">e Sociais</tspan></text></g>

<g id="highlight">
<ellipse cx="430.5" cy="710.5" rx="62.5" ry="205.5" fill="none" stroke="#D9262C" stroke-width="1.5"/>
<line x1="401" y1="493" x2="319" y2="425" stroke="#4472C4" stroke-width="1.4"/>
<polygon points="311,418 323.4,421.9 317,429.5" fill="#4472C4"/>
</g>

<g id="inset">
<rect x="0" y="0" width="299" height="682" fill="#fff"/>
<path d="M27,150 A129,134 0 0 1 285,150 L285,560 A129,87 0 0 1 27,560 Z" fill="none" stroke="#ED1C24" stroke-width="21"/>
<line x1="5" y1="52" x2="299" y2="52" stroke="#333" stroke-width="1.2"/>
<line x1="171" y1="52" x2="171" y2="59" stroke="#333" stroke-width="1"/>
<circle cx="171" cy="63" r="4" fill="#fff" stroke="#333" stroke-width="1"/>
<g id="n-inset-ppg">
<circle cx="171" cy="150" r="78" fill="#B2DDE4"/>
<text class="it" style="font-size:18.5px"><tspan x="171" y="129">Pró-Reitoria</tspan><tspan x="171" y="149.5">de Pesquisa e</tspan><tspan x="171" y="170">Pós-</tspan><tspan x="171" y="190.5">Graduação</tspan></text>
</g>
<path d="M169,236 V256 H64 V475" fill="none" stroke="#000" stroke-width="5.2" stroke-linecap="round" stroke-dasharray="0 10.6"/>
<path d="M64,318 H84.5 M64,396 H84.5 M64,475 H84.5" fill="none" stroke="#555" stroke-width="1.2"/>
<circle cx="89" cy="318" r="4.5" fill="#fff" stroke="#444" stroke-width="1.1"/>
<circle cx="89" cy="396" r="4.5" fill="#fff" stroke="#444" stroke-width="1.1"/>
<circle cx="89" cy="475" r="4.5" fill="#fff" stroke="#444" stroke-width="1.1"/>
<g id="n-inset-ipppds"><rect class="ibox" x="96" y="283" width="145" height="69"/><text class="it" transform="translate(168.5,0) scale(1.1,1)"><tspan x="0" y="299.5">Instituto de</tspan><tspan x="0" y="315">Políticas Públicas</tspan><tspan x="0" y="330.5">e Desenvolvimen-</tspan><tspan x="0" y="346">to Sustentável</tspan></text></g>
<g id="n-inset-ibaa"><rect class="ibox" x="96" y="362" width="145" height="69"/><text class="it" transform="translate(168.5,0) scale(1.1,1)"><tspan x="0" y="377">Instituto de</tspan><tspan x="0" y="392.5">Biotecnologia</tspan><tspan x="0" y="408">Aplicada à</tspan><tspan x="0" y="423.5">Agropecuária</tspan></text></g>
<g id="n-inset-iepfa"><rect class="ibox" x="96" y="441" width="145" height="125"/><text class="it" transform="translate(168.5,0) scale(1.1,1)"><tspan x="0" y="459">Instituto de</tspan><tspan x="0" y="474.5">Estudos e</tspan><tspan x="0" y="490">Pesquisas em</tspan><tspan x="0" y="505.5">Fortificação de</tspan><tspan x="0" y="521">Alimentos e</tspan><tspan x="0" y="536.5">Combate à Fome</tspan><tspan x="0" y="552">Oculta</tspan></text></g>
</g>
</svg>
